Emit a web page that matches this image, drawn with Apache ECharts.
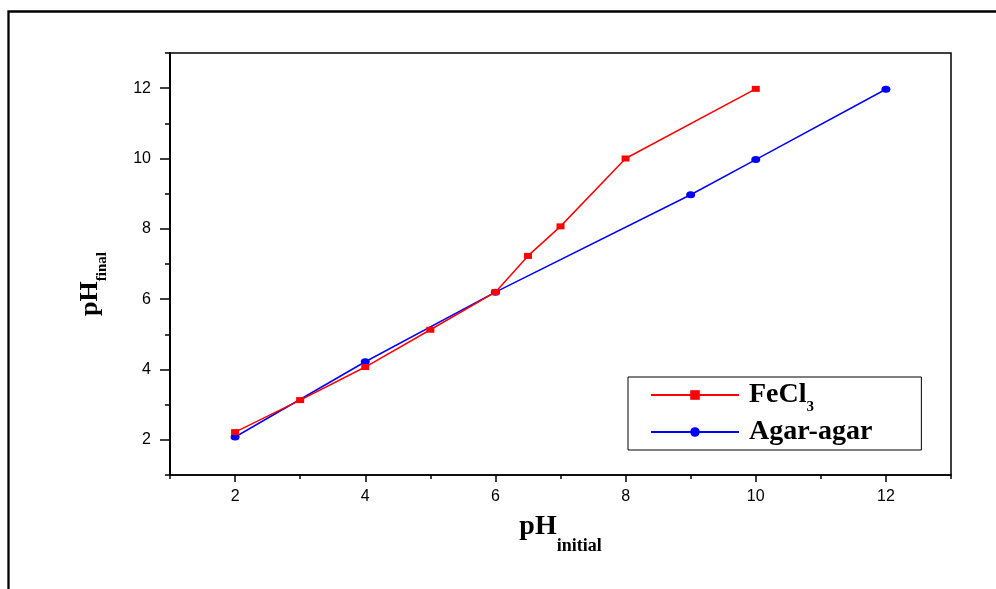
<!DOCTYPE html>
<html><head><meta charset="utf-8">
<script src="https://cdn.jsdelivr.net/npm/echarts@6/dist/echarts.min.js"></script>
<style>html,body{margin:0;padding:0;background:#fff}#c{width:996px;height:589px}</style>
</head><body><div id="c"></div>
<script>
// ---- data ----
const fecl3X = [2, 3, 4, 5, 6, 6.5, 7, 8, 10];
const fecl3Y = [2.22, 3.13, 4.07, 5.13, 6.2, 7.23, 8.07, 10.0, 11.98];
const agarX = [2, 4, 6, 9, 10, 12];
const agarY = [2.08, 4.22, 6.2, 8.97, 9.97, 11.97];
const seriesNames = ['FeCl3', 'Agar-agar'];
const majorTicks = [2, 4, 6, 8, 10, 12];
const minorTicks = [1, 3, 5, 7, 9, 11, 13];
const axisMin = 1, axisMax = 13;

const chart = echarts.init(document.getElementById('c'), null, {renderer: 'canvas'});
const serif = "'Liberation Serif','Times New Roman',serif";
const sans = "'Liberation Sans',Arial,sans-serif";

function pairs(xs, ys) { return xs.map((x, i) => [x, ys[i]]); }

const majorAxis = (pos, len, lw, margin, nameCfg) => Object.assign({
  type: 'value', min: axisMin, max: axisMax, position: pos,
  axisLine: {show: true, onZero: false, lineStyle: {color: '#000', width: lw}},
  axisTick: {show: true, inside: false, length: len, customValues: majorTicks, lineStyle: {color: '#000', width: 1.5}},
  axisLabel: {show: true, customValues: majorTicks, margin: margin, color: '#000', fontSize: 16, fontFamily: sans},
  splitLine: {show: false}
}, nameCfg || {});
const minorAxis = (pos, len) => ({
  type: 'value', min: axisMin, max: axisMax, position: pos,
  axisLine: {show: false},
  axisTick: {show: true, inside: false, length: len, customValues: minorTicks, lineStyle: {color: '#000', width: 1.5}},
  axisLabel: {show: false},
  splitLine: {show: false}
});

const option = {
  animation: false,
  backgroundColor: '#fff',
  graphic: [{
    type: 'rect', left: 6, top: 9,
    shape: {x: 0, y: 0, width: 1100, height: 700},
    style: {fill: 'none', stroke: '#000', lineWidth: 2.3},
    silent: true, z: -10
  }],
  grid: {
    left: 170, right: 45, top: 53, bottom: 114,
    show: true, borderColor: '#000', borderWidth: 1.5,
    containLabel: false, outerBoundsMode: 'none'
  },
  legend: {
    orient: 'vertical', left: 628, top: 377,
    borderColor: '#000', borderWidth: 1, backgroundColor: '#fff',
    padding: [4, 49, 4, 22],
    itemWidth: 88, itemHeight: 12, itemGap: 3,
    data: seriesNames,
    formatter: function (name) {
      return name === 'FeCl3' ? '{m|FeCl}{s|3}' : '{m|' + name + '}';
    },
    textStyle: {
      rich: {
        m: {fontFamily: serif, fontWeight: 'bold', fontSize: 28, lineHeight: 40, color: '#000', padding: [0, 0, 0, 5]},
        s: {fontFamily: serif, fontWeight: 'bold', fontSize: 15, lineHeight: 6, verticalAlign: 'bottom', color: '#000'}
      }
    }
  },
  xAxis: [
    majorAxis('bottom', 7, 1.7, 14, {
      name: '{m|pH}{s|initial}', nameLocation: 'middle', nameGap: 24,
      nameTextStyle: {
        rich: {
          m: {fontFamily: serif, fontWeight: 'bold', fontSize: 28, lineHeight: 56, color: '#000'},
          s: {fontFamily: serif, fontWeight: 'bold', fontSize: 18, lineHeight: 12, verticalAlign: 'bottom', color: '#000'}
        }
      }
    }),
    minorAxis('bottom', 4)
  ],
  yAxis: [
    majorAxis('left', 10, 2, 19, {
      name: '{m|pH}{s|final}', nameLocation: 'middle', nameRotate: 90, nameGap: 60,
      nameTextStyle: {
        padding: [0, 40, 0, 0],
        rich: {
          m: {fontFamily: serif, fontWeight: 'bold', fontSize: 26, lineHeight: 40, color: '#000'},
          s: {fontFamily: serif, fontWeight: 'bold', fontSize: 15, lineHeight: 20, verticalAlign: 'bottom', color: '#000'}
        }
      }
    }),
    minorAxis('left', 5)
  ],
  series: [
    {
      name: seriesNames[0], type: 'line', xAxisIndex: 0, yAxisIndex: 0,
      data: pairs(fecl3X, fecl3Y),
      symbol: 'rect', symbolSize: [8, 6], showAllSymbol: true,
      lineStyle: {color: '#ff0000', width: 1.5},
      itemStyle: {color: '#ff0000'}, z: 3
    },
    {
      name: seriesNames[1], type: 'line', xAxisIndex: 0, yAxisIndex: 0,
      data: pairs(agarX, agarY),
      symbol: 'circle', symbolSize: [9, 7], showAllSymbol: true,
      lineStyle: {color: '#0000ff', width: 1.5},
      itemStyle: {color: '#0000ff'}, z: 2
    }
  ]
};
chart.setOption(option);
</script>
</body></html>
